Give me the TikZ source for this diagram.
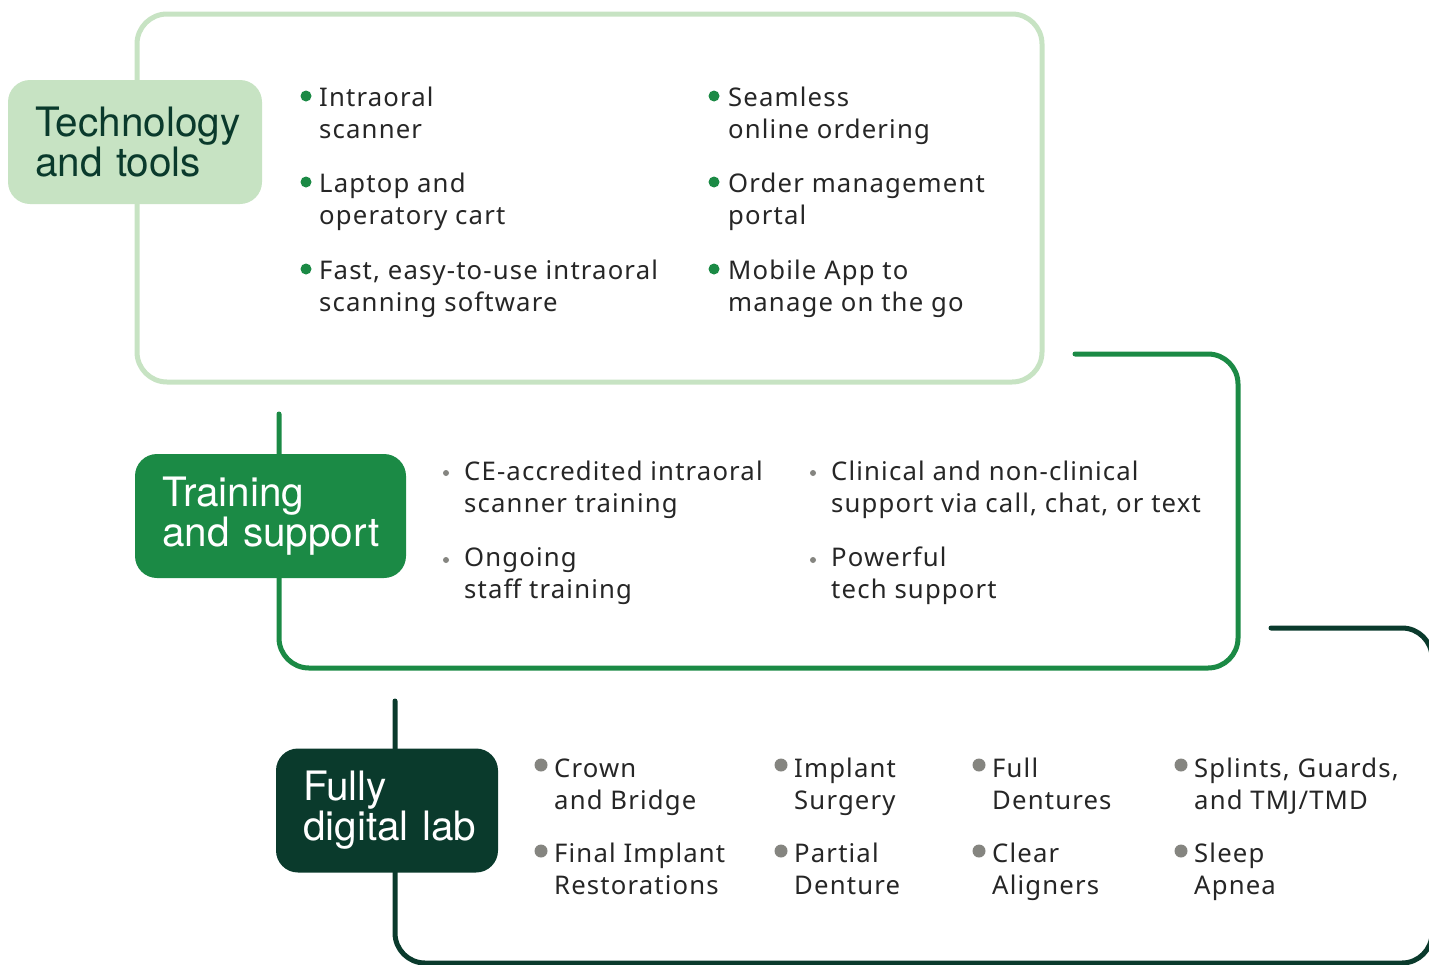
\documentclass[tikz,border=0pt]{standalone}
\usepackage{fontspec}
\setmainfont{Noto Sans}[LetterSpace=4.5]
\newfontfamily\labfont{TeX Gyre Heros}
\definecolor{lightg}{HTML}{C7E3C3}
\definecolor{midg}{HTML}{1B8A45}
\definecolor{darkg}{HTML}{0A3A2C}
\definecolor{txt}{HTML}{262626}
\definecolor{dotg}{HTML}{858580}
\begin{document}
\begin{tikzpicture}[x=1pt,y=-1pt,
  frame/.style={line width=5pt, rounded corners=30pt, line cap=round},
  labbox/.style={rounded corners=22pt, align=left, inner xsep=27pt, inner ysep=0pt,
     minimum height=124pt, font=\labfont\fontsize{40.5}{40}\selectfont},
  item/.style={anchor=base west, align=left, inner sep=0pt, text=txt,
     font=\fontsize{25.7}{32}\selectfont},
  tdot/.style={circle, fill=midg, inner sep=0pt, minimum size=11pt},
  sdot/.style={circle, fill=dotg, inner sep=0pt, minimum size=6pt},
  ldot/.style={circle, fill=dotg, inner sep=0pt, minimum size=13pt}]
\useasboundingbox (0,0) rectangle (1429,964);
\clip (0,0) rectangle (1429,964);
% frames
\draw[frame, lightg] (137,14) rectangle (1042,382);
\draw[frame, midg] (1075,354) -- (1238,354) -- (1238,668) -- (279,668) -- (279,414);
\draw[frame, darkg] (1271,628) -- (1432,628) -- (1432,963) -- (395,963) -- (395,701);
% labels
\node[labbox, fill=lightg, text=darkg, text width=200pt] (l1) at (135,142) {\mbox{Technology}\\\mbox{and tools}};
\node[labbox, fill=midg, text=white, text width=217pt] (l2) at (270.5,516) {\vphantom{g}\raisebox{-3pt}{\mbox{Training}}\\\raisebox{-3pt}{\mbox{and support}}};
\node[labbox, fill=darkg, text=white, text width=168pt] (l3) at (387,810.5) {\raisebox{-5pt}{\mbox{Fully}}\\\raisebox{-5pt}{\mbox{digital lab}}};
% technology items
\node[tdot] (d11) at (306,96) {};
\node[item] (t11) at (319,138) {Intraoral\\scanner};
\node[tdot] (d12) at (306,182) {};
\node[item] (t12) at (319,224) {Laptop and\\operatory cart};
\node[tdot] (d13) at (306,269) {};
\node[item] (t13) at (319,311) {Fast, easy-to-use intraoral\\scanning software};
\node[tdot] (d21) at (714,96) {};
\node[item] (t21) at (728,138) {Seamless\\online ordering};
\node[tdot] (d22) at (714,182) {};
\node[item] (t22) at (728,224) {Order management\\portal};
\node[tdot] (d23) at (714,269) {};
\node[item] (t23) at (728,311) {Mobile App to\\manage on the go};
% training items
\node[sdot] (s11) at (446,473) {};
\node[item] (u11) at (464,512) {CE-accredited intraoral\\scanner training};
\node[sdot] (s12) at (446,560) {};
\node[item] (u12) at (464,598) {Ongoing\\staff training};
\node[sdot] (s21) at (813,473) {};
\node[item] (u21) at (831,512) {Clinical and non-clinical\\support via call, chat, or text};
\node[sdot] (s22) at (813,560) {};
\node[item] (u22) at (831,598) {Powerful\\tech support};
% lab items
\node[ldot] (e11) at (541,765) {};
\node[item] (v11) at (554,809) {Crown\\and Bridge};
\node[ldot] (e12) at (541,851) {};
\node[item] (v12) at (554,894) {Final Implant\\Restorations};
\node[ldot] (e21) at (781,765) {};
\node[item] (v21) at (794,809) {Implant\\Surgery};
\node[ldot] (e22) at (781,851) {};
\node[item] (v22) at (794,894) {Partial\\Denture};
\node[ldot] (e31) at (979,765) {};
\node[item] (v31) at (992,809) {Full\\Dentures};
\node[ldot] (e32) at (979,851) {};
\node[item] (v32) at (992,894) {Clear\\Aligners};
\node[ldot] (e41) at (1181,765) {};
\node[item] (v41) at (1194,809) {Splints, Guards,\\and TMJ/TMD};
\node[ldot] (e42) at (1181,851) {};
\node[item] (v42) at (1194,894) {Sleep\\Apnea};
\end{tikzpicture}
\end{document}
